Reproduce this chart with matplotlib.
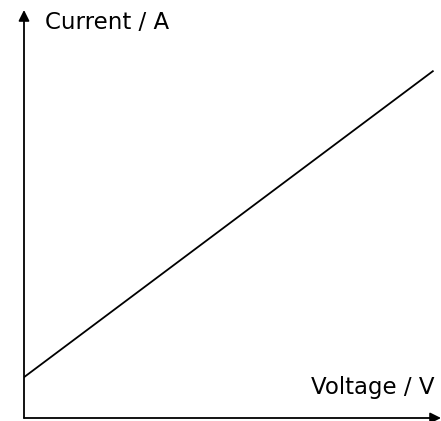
import matplotlib.pyplot as plt

voltage = [0, 10]
current = [1, 8.5]
x_label = "Voltage / V"
y_label = "Current / A"

fig = plt.figure(figsize=(4.41, 4.21), dpi=100)
ax = fig.add_axes([24 / 441, 3 / 421, 417 / 441, 408 / 421])

ax.plot(voltage, current, color="black", linewidth=1.3)
ax.set_xlim(0, 10.2)
ax.set_ylim(0, 10)

for s in ["top", "right", "left", "bottom"]:
    ax.spines[s].set_visible(False)
ax.set_xticks([])
ax.set_yticks([])

# axes with arrow heads
ax.annotate("", xy=(1.0, 0), xytext=(0, 0), xycoords="axes fraction",
            arrowprops=dict(arrowstyle="-|>", color="black", lw=1.3,
                            mutation_scale=16, shrinkA=0, shrinkB=0))
ax.annotate("", xy=(0, 1.0), xytext=(0, 0), xycoords="axes fraction",
            arrowprops=dict(arrowstyle="-|>", color="black", lw=1.3,
                            mutation_scale=16, shrinkA=0, shrinkB=0))

ax.text(0.05, 0.97, y_label, transform=ax.transAxes, fontsize=16.5,
        ha="left", va="center")
ax.text(0.985, 0.074, x_label, transform=ax.transAxes, fontsize=16.5,
        ha="right", va="center")

fig.savefig("out.png", dpi=100)
